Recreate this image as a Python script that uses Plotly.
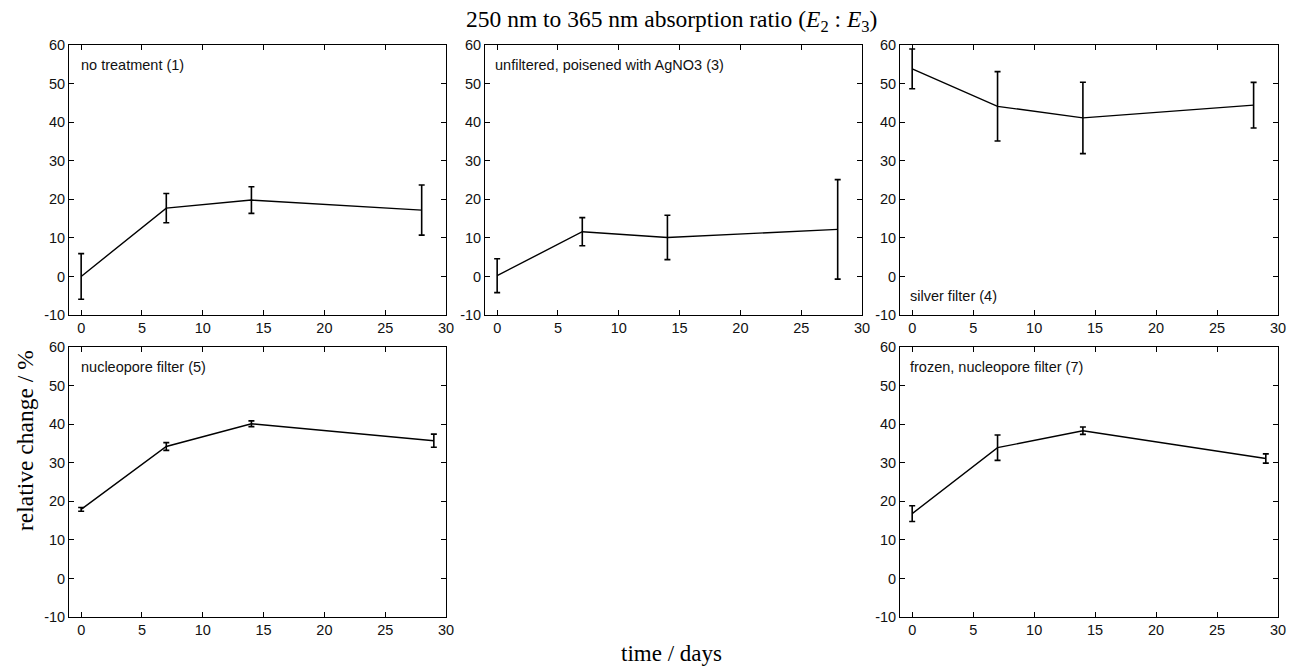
import plotly.graph_objects as go

W, H = 1289, 667

# ---- data ----
days_a = [0, 7, 14, 28]
days_b = [0, 7, 14, 29]

labels = ["no treatment (1)", "unfiltered, poisened with AgNO3 (3)", "silver filter (4)",
          "nucleopore filter (5)", "frozen, nucleopore filter (7)"]

no_treatment = [0.0, 17.7, 19.8, 17.2]
no_treatment_err = [5.9, 3.8, 3.45, 6.5]

unfiltered_agno3 = [0.2, 11.6, 10.1, 12.2]
unfiltered_agno3_err = [4.4, 3.65, 5.75, 12.9]

silver_filter = [53.8, 44.1, 41.1, 44.4]
silver_filter_err = [5.15, 9.0, 9.25, 5.9]

nucleopore = [17.9, 34.2, 40.1, 35.7]
nucleopore_err = [0.5, 1.0, 0.75, 1.7]

frozen_nucleopore = [16.8, 33.9, 38.3, 31.1]
frozen_nucleopore_err = [2.05, 3.3, 0.95, 1.2]

x_ticks = [0, 5, 10, 15, 20, 25, 30]
y_ticks = [-10, 0, 10, 20, 30, 40, 50, 60]

# ---- layout geometry (pixels) ----
cols_px = [(69, 446), (485, 862), (900, 1278)]
rows_px = [(45, 315), (347, 617)]

panels = [
    (days_a, no_treatment, no_treatment_err, labels[0], 0, 0, "top"),
    (days_a, unfiltered_agno3, unfiltered_agno3_err, labels[1], 0, 1, "top"),
    (days_a, silver_filter, silver_filter_err, labels[2], 0, 2, "bottom"),
    (days_b, nucleopore, nucleopore_err, labels[3], 1, 0, "top"),
    (days_b, frozen_nucleopore, frozen_nucleopore_err, labels[4], 1, 2, "top"),
]

sans = "Liberation Sans, Arial, sans-serif"
tick_font = dict(family=sans, size=14.5, color="#111")
serif = "Liberation Serif, Times New Roman, serif"

fig = go.Figure()
layout = dict(
    width=W, height=H,
    margin=dict(l=0, r=0, t=0, b=0, pad=0, autoexpand=False),
    paper_bgcolor="white", plot_bgcolor="white",
    showlegend=False,
)
annotations = []

for i, (xs, ys, es, lab, r, c, pos) in enumerate(panels):
    n = "" if i == 0 else str(i + 1)
    xa = "xaxis" + n
    ya = "yaxis" + n
    x0, x1 = cols_px[c]
    y0, y1 = rows_px[r]
    layout[xa] = dict(
        domain=[x0 / W, x1 / W], anchor="y" + n, range=[-1, 30],
        tickvals=x_ticks, ticks="inside", ticklen=5, tickcolor="black",
        showline=True, linecolor="black", linewidth=1, mirror="ticks",
        showgrid=False, zeroline=False, tickfont=tick_font, automargin=False,
    )
    layout[ya] = dict(
        domain=[1 - y1 / H, 1 - y0 / H], anchor="x" + n, range=[-10, 60],
        tickvals=y_ticks, ticktext=[("-10" if v == -10 else str(v)) for v in y_ticks],
        ticks="inside", ticklen=5, tickcolor="black",
        showline=True, linecolor="black", linewidth=1, mirror="ticks",
        showgrid=False, zeroline=False, tickfont=tick_font, automargin=False,
    )
    fig.add_trace(go.Scatter(
        x=xs, y=ys, mode="lines", xaxis="x" + n, yaxis="y" + n,
        line=dict(color="black", width=1.4),
        error_y=dict(type="data", array=es, visible=True, color="black",
                     thickness=1.6, width=3),
    ))
    if pos == "top":
        ay = 1 - 20 / (y1 - y0)
    else:
        ay = 19 / (y1 - y0)
    ax = (10 if c == 0 else 8) / (x1 - x0)
    annotations.append(dict(
        text=lab, xref="x" + n + " domain", yref="y" + n + " domain",
        x=ax, y=ay, xanchor="left", yanchor="middle", showarrow=False,
        font=dict(family=sans, size=14.5, color="#111"),
    ))

annotations.append(dict(
    text="250 nm to 365 nm absorption ratio (<i>E</i><sub>2</sub> : <i>E</i><sub>3</sub>)",
    xref="paper", yref="paper", x=671 / W, y=1 - 21 / H, xanchor="center", yanchor="middle",
    showarrow=False, font=dict(family=serif, size=23.5, color="black"),
))
annotations.append(dict(
    text="time / days", xref="paper", yref="paper", x=671 / W, y=0,
    xanchor="center", yanchor="bottom", borderpad=0, showarrow=False,
    font=dict(family=serif, size=23, color="black"),
))
annotations.append(dict(
    text="relative change / %", xref="paper", yref="paper", x=25 / W, y=1 - 441 / H,
    xanchor="center", yanchor="middle", textangle=-90, showarrow=False,
    font=dict(family=serif, size=23.5, color="black"),
))
layout["annotations"] = annotations
fig.update_layout(**layout)

post = (
    "document.body.style.margin='0';"
    "document.body.style.overflow='hidden';"
)
fig.write_html("out.html", config={"displayModeBar": False}, post_script=post)
